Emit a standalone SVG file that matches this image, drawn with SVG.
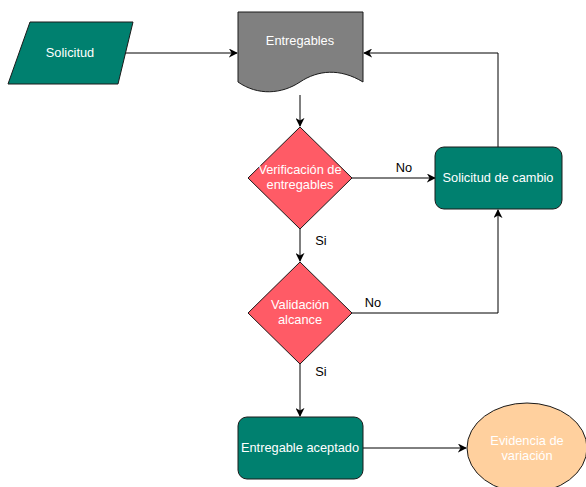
<svg xmlns="http://www.w3.org/2000/svg" width="586" height="487" viewBox="0 0 586 487">
  <style>
    .teal { fill: #00806F; stroke: #1a1a1a; stroke-width: 1; }
    .doc { fill: #808080; stroke: #1a1a1a; stroke-width: 1; }
    .dec { fill: #FF5B66; stroke: #1a1a1a; stroke-width: 1; }
    .ell { fill: #FFD09E; stroke: #1a1a1a; stroke-width: 1; }
    .lbl { font-family: "Liberation Sans", Arial, sans-serif; font-size: 12.8px; fill: #ffffff; text-anchor: middle; }
    .edge { font-family: "Liberation Sans", Arial, sans-serif; font-size: 12.8px; fill: #000000; text-anchor: middle; }
    .conn { fill: none; stroke: #000000; stroke-width: 1; }
  </style>
  <defs>
    <marker id="arrow" viewBox="0 0 10 10" refX="9" refY="5" markerWidth="9" markerHeight="9" markerUnits="userSpaceOnUse" orient="auto">
      <path d="M0,0 L10,5 L0,10 L3,5 Z" fill="#000000"/>
    </marker>
  </defs>
  <rect width="586" height="487" fill="#ffffff"/>

  <g id="connectors">
    <path class="conn" d="M124,53 L237,53" marker-end="url(#arrow)"/>
    <path class="conn" d="M300,95 L300,126" marker-end="url(#arrow)"/>
    <path class="conn" d="M352,178 L435,178" marker-end="url(#arrow)"/>
    <path class="conn" d="M498,147 L498,53 L364,53" marker-end="url(#arrow)"/>
    <path class="conn" d="M300,229 L300,261" marker-end="url(#arrow)"/>
    <path class="conn" d="M352,313 L498,313 L498,210" marker-end="url(#arrow)"/>
    <path class="conn" d="M300,364 L300,416" marker-end="url(#arrow)"/>
    <path class="conn" d="M363,448 L466,448" marker-end="url(#arrow)"/>
    <text class="edge" x="404" y="172">No</text>
    <text class="edge" x="321" y="245">Si</text>
    <text class="edge" x="373" y="307">No</text>
    <text class="edge" x="321" y="376">Si</text>
  </g>

  <g id="solicitud">
    <polygon class="teal" points="30,22 133,22 118,84 8,84"/>
    <text class="lbl" x="70" y="57">Solicitud</text>
  </g>

  <g id="entregables">
    <path class="doc" d="M238,12 L363,12 L363,82 C340,68 318,70 300,82 C282,94 258,96 238,82 Z"/>
    <text class="lbl" x="300" y="45">Entregables</text>
  </g>

  <g id="verificacion">
    <polygon class="dec" points="300,127 352,178 300,229 248,178"/>
    <text class="lbl" x="300" y="174">Verificación de</text>
    <text class="lbl" x="300" y="189">entregables</text>
  </g>

  <g id="solicitud-cambio">
    <rect class="teal" x="435" y="147" width="127" height="62" rx="9"/>
    <text class="lbl" x="498" y="182">Solicitud de cambio</text>
  </g>

  <g id="validacion">
    <polygon class="dec" points="300,262 352,313 300,364 248,313"/>
    <text class="lbl" x="300" y="309">Validación</text>
    <text class="lbl" x="300" y="324">alcance</text>
  </g>

  <g id="entregable-aceptado">
    <rect class="teal" x="238" y="417" width="125" height="62" rx="9"/>
    <text class="lbl" x="300" y="452">Entregable aceptado</text>
  </g>

  <g id="evidencia">
    <ellipse class="ell" cx="527" cy="448" rx="60" ry="45"/>
    <text class="lbl" x="527" y="445">Evidencia de</text>
    <text class="lbl" x="527" y="460">variación</text>
  </g>
</svg>
